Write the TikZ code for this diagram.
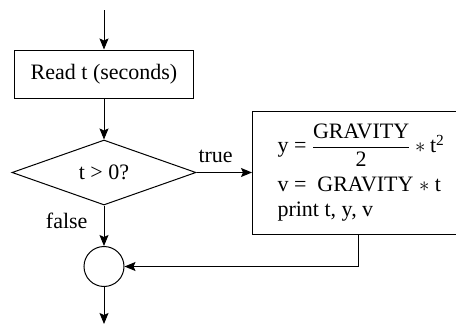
\documentclass[tikz,border=0pt]{standalone}
\usepackage{amsmath}
\usepackage{fontspec}
\setmainfont{Liberation Serif}
\usetikzlibrary{shapes.geometric,arrows.meta}
\begin{document}
\begin{tikzpicture}[x=1pt,y=-1pt,
  font=\fontsize{22}{25}\selectfont,
  line width=1pt,
  arr/.style={-{Stealth[length=11pt,width=9pt,inset=2pt]}},
  proc/.style={draw, rectangle, inner sep=0pt},
  dec/.style={draw, diamond, inner sep=0pt, minimum width=184pt, minimum height=65pt, aspect=2.8},
  conn/.style={draw, circle, minimum size=40pt, inner sep=0pt},
  lbl/.style={inner sep=0pt}]
\useasboundingbox (0,0) rectangle (456,327);
\coordinate (start) at (104,10);
\node[proc, minimum width=179pt, minimum height=48pt] (read) at (104,74) {Read t (seconds)};
\node[dec] (test) at (104,172.5) {t > 0?};
\node[proc, anchor=west, inner xsep=25pt, minimum height=123pt, align=left] (calc) at (252,172.5)
  {y = $\dfrac{\text{GRAVITY}}{\text{2}} \ast \text{t}^{\text{2}}$\\[9pt]
   v = \ GRAVITY $\ast$ t\\
   print t, y, v};
\node[conn] (join) at (104,266.5) {};
\coordinate (end) at (104,324);
\coordinate (back) at (358,266.5);
\node[lbl, anchor=base west] (tl) at (198,162) {true};
\node[lbl, anchor=base east] (fl) at (88,228) {false};
\draw[arr] (start) -- (read);
\draw[arr] (read) -- (test);
\draw[arr] (test.east) -- (calc.west);
\draw[arr] (test.south) -- (join.north);
\draw[arr] (join.south) -- (end);
\draw[arr] (calc.south -| back) -- (back) -- (join.east);
\end{tikzpicture}
\end{document}
